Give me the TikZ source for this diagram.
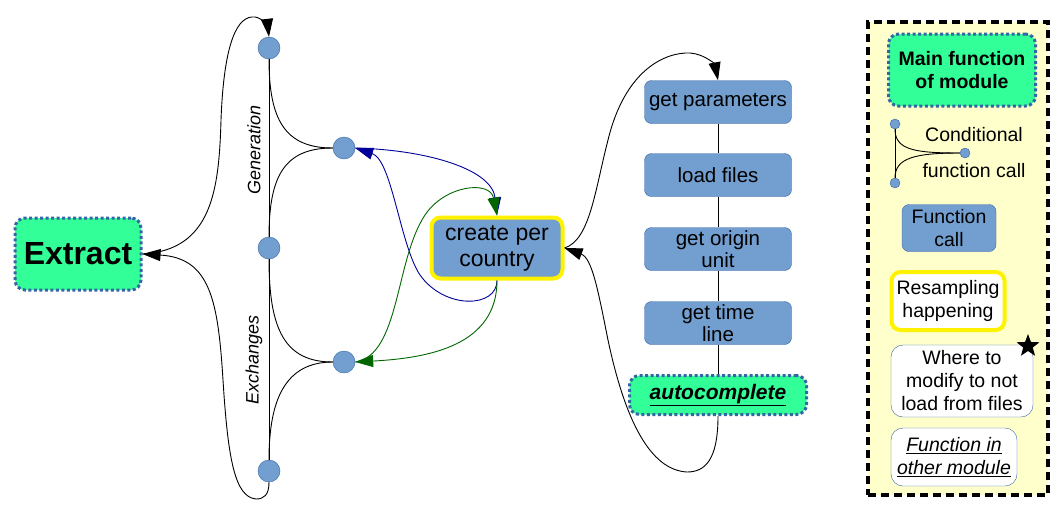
\documentclass[tikz,border=0pt]{standalone}
\usepackage{fontspec}
\setmainfont{Liberation Sans}
\usetikzlibrary{arrows.meta,shapes.geometric}

\definecolor{callblue}{HTML}{729FCF}
\definecolor{edgeblue}{HTML}{3465A4}
\definecolor{maingreen}{HTML}{33FF99}
\definecolor{legendbg}{HTML}{FFFFCC}
\definecolor{linkblue}{HTML}{000099}
\definecolor{linkgreen}{HTML}{006600}

\newcommand{\pxfont}[2]{\fontsize{#1}{#2}\selectfont}

\begin{document}
\begin{tikzpicture}[
  x=1pt, y=-1pt,
  call/.style={draw=edgeblue, fill=callblue, rounded corners=7pt, minimum width=147pt,
    minimum height=43pt, inner sep=1pt, align=center, font=\pxfont{20.5}{22}},
  mainfn/.style={draw=edgeblue, fill=maingreen, line width=3pt, dash pattern=on 3pt off 2.5pt,
    rounded corners=10pt, align=center, inner sep=1pt},
  branch/.style={circle, draw=edgeblue, fill=callblue, minimum size=22pt, inner sep=0},
  minibranch/.style={circle, draw=edgeblue, fill=callblue, minimum size=10pt, inner sep=0},
  resample/.style={draw=yellow, line width=4pt, rounded corners=9pt, align=center},
  note/.style={draw=edgeblue, fill=white, rounded corners=12pt, align=center, inner sep=1pt},
  link/.style={line width=0.9pt, -{Triangle[length=18pt,width=12pt]}},
  legfont/.style={font=\pxfont{19.5}{23}}
]
\useasboundingbox (0,0) rectangle (1057,515);

% main function
\node[mainfn, minimum width=126pt, minimum height=72pt, font=\pxfont{32}{36}\bfseries] (ext) at (78,254) {Extract};

% conditional branches
\node[branch] (ja)    at (269,48)  {};
\node[branch] (jgen)  at (344,148) {};
\node[branch] (jb)    at (269,248) {};
\node[branch] (jexch) at (344,362) {};
\node[branch] (jc)    at (269,471) {};
\draw[line width=0.9pt] (ja.south) -- (jb.north);
\draw[line width=0.9pt] (jb.south) -- (jc.north);
\draw[line width=0.9pt] (ja.south) .. controls (269,120) and (285,148) .. (jgen.west);
\draw[line width=0.9pt] (jb.north) .. controls (269,175) and (285,148) .. (jgen.west);
\draw[line width=0.9pt] (jb.south) .. controls (269,330) and (285,362) .. (jexch.west);
\draw[line width=0.9pt] (jc.north) .. controls (269,400) and (285,362) .. (jexch.west);
\node[rotate=90, font=\pxfont{18}{20}\itshape] (lgen)  at (254,150) {Generation};
\node[rotate=90, font=\pxfont{18}{20}\itshape] (lexch) at (254,360) {Exchanges};

\draw[link] (ext.east) .. controls (212,250) and (219,190) .. (221,120)
  .. controls (224,40) and (238,15) .. (255,17) .. controls (263,18) and (268,28) .. (ja.north);
\draw[link] (jc.south) .. controls (269,495) and (264,499) .. (256,499)
  .. controls (235,497) and (228,460) .. (223,380) .. controls (218,300) and (210,258) .. (ext.east);

% resampling
\node[resample, fill=callblue, minimum width=131pt, minimum height=61pt, font=\pxfont{23}{26}] (cpc) at (497,248) {create per\\country};

\draw[link, linkblue] (jgen.east) .. controls (430,150) and (492,170) .. (cpc.north);
\draw[link, linkblue] (cpc.south) .. controls (497,308) and (445,310) .. (420,275)
  .. controls (400,245) and (392,160) .. (jgen.east);
\draw[link, linkgreen] (cpc.south) .. controls (497,345) and (430,358) .. (jexch.east);
\draw[link, linkgreen] (jexch.east) .. controls (400,355) and (395,260) .. (425,215)
  .. controls (445,185) and (490,180) .. (cpc.north);

% function calls
\node[call] (gp)  at (718,102) {get parameters};
\node[call] (lf)  at (718,175) {load files};
\node[call] (gou) at (718,249) {get origin\\unit};
\node[call] (gtl) at (718,323) {get time\\line};
\node[mainfn, minimum width=177pt, minimum height=39pt, font=\pxfont{21}{24}\bfseries\itshape] (ac) at (718,395) {\underline{autocomplete}};
\draw[line width=0.9pt] (gp) -- (lf);
\draw[line width=0.9pt] (lf) -- (gou);
\draw[line width=0.9pt] (gou) -- (gtl);
\draw[line width=0.9pt] (gtl) -- (ac);

\draw[link] (cpc.east) .. controls (590,240) and (595,190) .. (608,140)
  .. controls (625,70) and (665,52) .. (690,53) .. controls (705,54) and (715,65) .. (gp.north);
\draw[link] (ac.south) .. controls (718,460) and (705,472) .. (687,472)
  .. controls (650,470) and (625,420) .. (608,340) .. controls (598,290) and (592,258) .. (cpc.east);

% legend
\node[draw, fill=legendbg, line width=3.5pt, dash pattern=on 8pt off 5pt, minimum width=180pt, minimum height=473pt] (legend) at (958,258.5) {};
\node[mainfn, minimum width=147pt, minimum height=72pt, font=\pxfont{19.5}{23}\bfseries] (lmain) at (962,70) {Main function\\of module};
\node[minibranch] (lc1) at (895,124) {};
\node[minibranch] (lc2) at (965,153) {};
\node[minibranch] (lc3) at (895,183) {};
\draw[line width=0.9pt] (lc1) -- (lc3);
\draw[line width=0.9pt] (lc1.south) .. controls (895,150) and (915,153) .. (lc2.west);
\draw[line width=0.9pt] (lc3.north) .. controls (895,158) and (915,153) .. (lc2.west);
\node[legfont, align=center] (lcond) at (974,153) {Conditional\\[13pt]function call};
\node[call, legfont, minimum width=94pt, minimum height=47pt] (lcall) at (949,228) {Function\\call};
\node[resample, legfont, fill=white, minimum width=113pt, minimum height=58pt, inner sep=1pt] (lres) at (948,301) {Resampling\\happening};
\node[note, legfont, minimum width=142pt, minimum height=72pt] (lwhere) at (962,381) {Where to\\modify to not\\load from files};
\node[star, star points=5, star point ratio=2.4, fill=black, minimum size=24pt, inner sep=0] (lstar) at (1028,346) {};
\node[note, legfont, minimum width=126pt, minimum height=58pt, font=\pxfont{19.5}{23}\itshape] (lother) at (954,457) {\underline{Function in}\\\underline{other module}};
\end{tikzpicture}
\end{document}
